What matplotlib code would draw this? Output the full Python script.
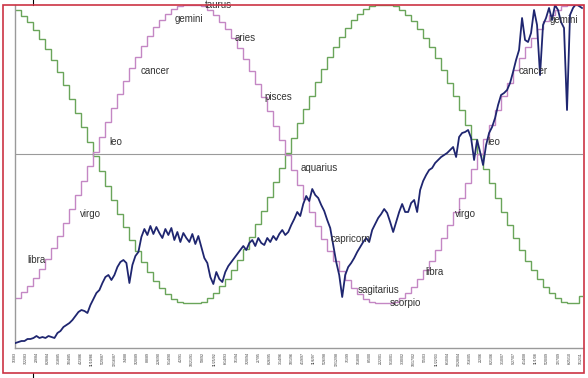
import numpy as np
import matplotlib.pyplot as plt
from matplotlib.lines import Line2D
from matplotlib.patches import Rectangle

plt.rcParams['font.family'] = ['Liberation Sans', 'DejaVu Sans']

# stock index, one reading every 3 time units (chart height units)
stock = [
    5, 6, 7, 7, 9, 9, 10, 12, 10, 11,
    10, 12, 11, 10, 15, 17, 21, 23, 25, 28,
    32, 36, 38, 37, 35, 43, 49, 55, 58, 65,
    71, 73, 68, 73, 81, 86, 88, 85, 65, 83,
    92, 96, 111, 119, 113, 122, 114, 121, 115, 110,
    119, 113, 120, 108, 116, 106, 115, 110, 106, 114,
    104, 112, 101, 90, 85, 71, 64, 76, 69, 66,
    76, 82, 86, 90, 94, 98, 102, 98, 105, 108,
    102, 110, 105, 103, 110, 106, 112, 108, 114, 118,
    113, 116, 123, 129, 136, 132, 144, 152, 147, 159,
    153, 150, 143, 137, 128, 120, 103, 86, 73, 51,
    73, 81, 85, 90, 96, 101, 106, 110, 106, 118,
    124, 130, 134, 139, 135, 126, 116, 126, 136, 144,
    136, 136, 145, 148, 136, 158, 167, 173, 178, 180,
    185, 188, 191, 193, 195, 198, 201, 191, 211, 215,
    216, 218, 210, 188, 208, 196, 183, 203, 215, 221,
    230, 243, 253, 255, 258, 265, 276, 288, 298, 330,
    308, 306, 315, 338, 323, 273, 323, 330, 340, 328,
    343, 338, 326, 320, 238, 333, 340, 344, 342, 340,
]
stock_step = 3

# zodiac step lines, one level every 6 time units
pink_levels = [
    50, 56, 62, 70, 79, 89, 100, 112, 125, 139,
    153, 167, 182, 196, 211, 226, 240, 254, 267, 280,
    291, 302, 312, 321, 328, 334, 339, 342, 343, 343,
    343, 342, 338, 333, 326, 319, 310, 300, 289, 277,
    264, 251, 237, 222, 208, 193, 178, 163, 149, 136,
    122, 109, 97, 87, 77, 68, 60, 54, 49, 46,
    45, 45, 45, 46, 50, 55, 61, 69, 78, 87,
    98, 110, 123, 136, 150, 165, 179, 194, 209, 223,
    238, 252, 265, 278, 290, 301, 310, 319, 327, 333,
    338, 342, 343, 343, 343,
]
green_levels = [
    338, 332, 326, 318, 309, 299, 288, 276, 263, 249,
    235, 221, 206, 192, 177, 162, 148, 134, 121, 108,
    97, 86, 76, 67, 60, 54, 49, 46, 45, 45,
    45, 46, 50, 55, 62, 69, 78, 88, 99, 111,
    124, 137, 151, 166, 180, 195, 210, 225, 239, 252,
    266, 279, 291, 301, 311, 320, 328, 334, 339, 342,
    343, 343, 343, 342, 338, 333, 327, 319, 310, 301,
    290, 278, 265, 252, 238, 223, 209, 194, 179, 165,
    150, 136, 123, 110, 98, 87, 78, 69, 61, 55,
    50, 46, 45, 45, 52,
]
step_width = 6
mid_level = 194

sign_names = ['libra', 'virgo', 'leo', 'cancer', 'gemini', 'taurus', 'aries',
              'pisces', 'aquarius', 'capricorn', 'sagitarius', 'scorpio',
              'libra', 'virgo', 'leo', 'cancer', 'gemini']
sign_x = [12, 65, 94, 125, 159, 190, 219, 249, 285, 315, 343, 375,
          410, 440, 472, 504, 535]
sign_y = [88, 134, 206, 277, 329, 343, 310, 251, 180, 109, 58, 45,
          76, 134, 206, 277, 328]

date_labels = [
    "1/3/83", "7/22/83", "2/9/84", "8/28/84", "3/18/85", "10/4/85", "4/23/86",
    "11/10/86", "5/29/87", "12/16/87", "7/4/88", "1/20/89", "8/8/89", "2/26/90",
    "9/14/90", "4/2/91", "10/21/91", "5/8/92", "11/25/92", "6/14/93", "1/1/94",
    "7/20/94", "2/7/95", "8/26/95", "3/14/96", "10/1/96", "4/19/97", "11/6/97",
    "5/26/98", "12/12/98", "7/1/99", "1/18/00", "8/5/00", "2/22/01", "9/10/01",
    "3/30/02", "10/17/02", "5/5/03", "11/22/03", "6/10/04", "12/28/04", "7/16/05",
    "2/2/06", "8/21/06", "3/10/07", "9/27/07", "4/14/08", "11/1/08", "5/20/09",
    "12/7/09", "6/25/10", "1/12/11",
]

fig = plt.figure(figsize=(5.88, 3.78), dpi=100)
ax = fig.add_axes([14.5 / 588, 30 / 378, 568.5 / 588, 343 / 378])

t_stock = np.arange(len(stock)) * stock_step
edges = np.arange(len(pink_levels) + 1) * step_width

ax.axhline(mid_level, color='#9a9a9a', lw=0.8, zorder=1)
ax.stairs(green_levels, edges, baseline=None, color='#6aa55a', lw=1.0, zorder=2)
ax.stairs(pink_levels, edges, baseline=None, color='#c487c4', lw=1.0, zorder=2)
ax.plot(t_stock, stock, color='#1f2670', lw=1.3, zorder=3)

for name, x, y in zip(sign_names, sign_x, sign_y):
    ax.text(x, y, name, fontsize=7, color='#333333', ha='left', va='center',
            zorder=4, clip_on=False)

ax.set_xlim(-0.5, 568)
ax.set_ylim(0, 343)
ax.set_yticks([])
ax.set_xticks(np.arange(len(date_labels)) * 11.11 - 1)
ax.set_xticklabels(date_labels, rotation=90, fontsize=2.6, color='#333333')
ax.tick_params(axis='x', length=0, pad=3)
for s in ['top', 'right']:
    ax.spines[s].set_visible(False)
for s in ['left', 'bottom']:
    ax.spines[s].set_color('#9a9a9a')
    ax.spines[s].set_linewidth(1.0)

# red frame and the two small black marks
fig.patches.append(Rectangle((3 / 588, 5.5 / 378), 581 / 588, 368 / 378,
                             fill=False, edgecolor='#cc3344', lw=1.2,
                             transform=fig.transFigure, zorder=10))
fig.lines.append(Line2D([33 / 588, 33 / 588], [373 / 378, 1], color='black',
                        lw=0.8, transform=fig.transFigure))
fig.lines.append(Line2D([33 / 588, 33 / 588], [0, 5 / 378], color='black',
                        lw=0.8, transform=fig.transFigure))

fig.savefig('out.png', dpi=100)
